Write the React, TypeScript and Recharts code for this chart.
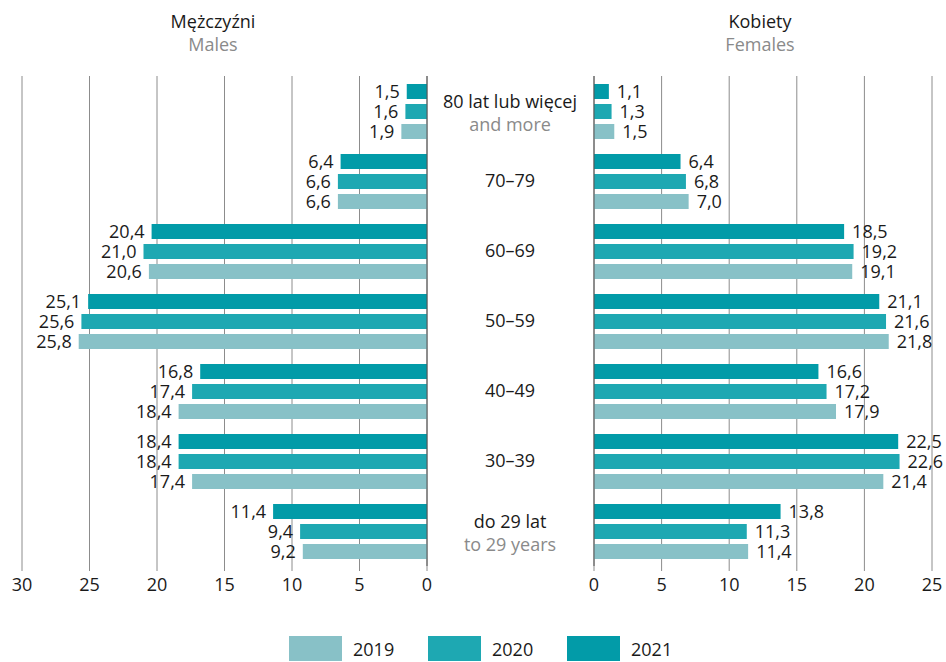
import React from 'react';
import { BarChart, Bar, XAxis, YAxis, CartesianGrid, ReferenceLine, LabelList } from 'recharts';

const categories = ['80 lat lub więcej', '70–79', '60–69', '50–59', '40–49', '30–39', 'do 29 lat'];
const categoriesEn = ['and more', '', '', '', '', '', 'to 29 years'];

const males2019 = [1.9, 6.6, 20.6, 25.8, 18.4, 17.4, 9.2];
const males2020 = [1.6, 6.6, 21.0, 25.6, 17.4, 18.4, 9.4];
const males2021 = [1.5, 6.4, 20.4, 25.1, 16.8, 18.4, 11.4];

const females2019 = [1.5, 7.0, 19.1, 21.8, 17.9, 21.4, 11.4];
const females2020 = [1.3, 6.8, 19.2, 21.6, 17.2, 22.6, 11.3];
const females2021 = [1.1, 6.4, 18.5, 21.1, 16.6, 22.5, 13.8];

const maleTicks = [0, 5, 10, 15, 20, 25, 30];
const femaleTicks = [0, 5, 10, 15, 20, 25];
const years = ['2019', '2020', '2021'];

const COLORS: Record<string, string> = { '2019': '#88C1C7', '2020': '#1EA8B2', '2021': '#029BA8' };
const FONT = '"Open Sans", sans-serif';
const TEXT = '#1a1a1a';
const GREY = '#8a8a8a';
const GRID = '#8c8c8c';

const maleData = categories.map((cat, i) => ({
  cat,
  y2019: males2019[i],
  y2020: males2020[i],
  y2021: males2021[i],
}));

const femaleData = categories.map((cat, i) => ({
  cat,
  en: categoriesEn[i],
  y2019: females2019[i],
  y2020: females2020[i],
  y2021: females2021[i],
}));

const fmt = (v: number) => v.toFixed(1).replace('.', ',');

const LeftLabel = (props: any) => {
  const x = Number(props.x), w = Number(props.width), y = Number(props.y), h = Number(props.height);
  const left = Math.min(x, x + w);
  return (
    <text x={left - 7} y={y + h / 2} dy="0.35em" textAnchor="end" fontSize={18} fill={TEXT} fontFamily={FONT}>
      {fmt(props.value)}
    </text>
  );
};

const RightLabel = (props: any) => {
  const x = Number(props.x), w = Number(props.width), y = Number(props.y), h = Number(props.height);
  const right = Math.max(x, x + w);
  return (
    <text x={right + 8} y={y + h / 2} dy="0.35em" textAnchor="start" fontSize={18} fill={TEXT} fontFamily={FONT}>
      {fmt(props.value)}
    </text>
  );
};

// age group labels sit in the gap between the two halves
const CenterTick = (props: any) => {
  const { y, payload, index } = props;
  const en = categoriesEn[index];
  const cx = 83;
  if (!en) {
    return (
      <text x={cx} y={y} dy="0.35em" textAnchor="middle" fontSize={18} fill={TEXT} fontFamily={FONT}>
        {payload.value}
      </text>
    );
  }
  return (
    <g>
      <text x={cx} y={y - 9} dy="0.35em" textAnchor="middle" fontSize={18} fill={TEXT} fontFamily={FONT}>
        {payload.value}
      </text>
      <text x={cx} y={y + 14} dy="0.35em" textAnchor="middle" fontSize={18} fill={GREY} fontFamily={FONT}>
        {en}
      </text>
    </g>
  );
};

const tickStyle = { fontSize: 18, fill: TEXT, fontFamily: FONT };

export default function App() {
  return (
    <div style={{ position: 'absolute', left: 0, top: 0, width: 946, height: 662, background: '#fff', fontFamily: FONT }}>
      <div style={{ position: 'absolute', left: 113, width: 200, top: 10, textAlign: 'center', fontSize: 18, lineHeight: '23px' }}>
        <div style={{ color: TEXT }}>Mężczyźni</div>
        <div style={{ color: GREY }}>Males</div>
      </div>
      <div style={{ position: 'absolute', left: 660, width: 200, top: 10, textAlign: 'center', fontSize: 18, lineHeight: '23px' }}>
        <div style={{ color: TEXT }}>Kobiety</div>
        <div style={{ color: GREY }}>Females</div>
      </div>

      <div style={{ position: 'absolute', left: 0, top: 0 }}>
        <BarChart
          width={460}
          height={610}
          data={maleData}
          layout="vertical"
          margin={{ top: 76, right: 33, bottom: 4, left: 22 }}
          barSize={15}
          barGap={5}
        >
          <CartesianGrid horizontal={false} stroke={GRID} />
          <XAxis
            type="number"
            domain={[0, 30]}
            ticks={maleTicks}
            reversed
            axisLine={false}
            tickLine={{ stroke: GRID }}
            tickSize={5}
            tickMargin={7}
            height={40}
            tick={tickStyle}
            interval={0}
          />
          <YAxis type="category" dataKey="cat" hide />
          <ReferenceLine x={0} stroke="#555" />
          <Bar dataKey="y2021" fill={COLORS['2021']} isAnimationActive={false}>
            <LabelList dataKey="y2021" content={LeftLabel} />
          </Bar>
          <Bar dataKey="y2020" fill={COLORS['2020']} isAnimationActive={false}>
            <LabelList dataKey="y2020" content={LeftLabel} />
          </Bar>
          <Bar dataKey="y2019" fill={COLORS['2019']} isAnimationActive={false}>
            <LabelList dataKey="y2019" content={LeftLabel} />
          </Bar>
        </BarChart>
      </div>

      <div style={{ position: 'absolute', left: 427, top: 0 }}>
        <BarChart
          width={519}
          height={610}
          data={femaleData}
          layout="vertical"
          margin={{ top: 76, right: 14, bottom: 4, left: 0 }}
          barSize={15}
          barGap={5}
        >
          <CartesianGrid horizontal={false} stroke={GRID} />
          <XAxis
            type="number"
            domain={[0, 25]}
            ticks={femaleTicks}
            axisLine={false}
            tickLine={{ stroke: GRID }}
            tickSize={5}
            tickMargin={7}
            height={40}
            tick={tickStyle}
            interval={0}
          />
          <YAxis
            type="category"
            dataKey="cat"
            width={167}
            axisLine={{ stroke: '#555' }}
            tickLine={false}
            tick={<CenterTick />}
            interval={0}
          />
          <Bar dataKey="y2021" fill={COLORS['2021']} isAnimationActive={false}>
            <LabelList dataKey="y2021" content={RightLabel} />
          </Bar>
          <Bar dataKey="y2020" fill={COLORS['2020']} isAnimationActive={false}>
            <LabelList dataKey="y2020" content={RightLabel} />
          </Bar>
          <Bar dataKey="y2019" fill={COLORS['2019']} isAnimationActive={false}>
            <LabelList dataKey="y2019" content={RightLabel} />
          </Bar>
        </BarChart>
      </div>

      <div style={{ position: 'absolute', left: 289, top: 636, display: 'flex' }}>
        {years.map((yr) => (
          <div key={yr} style={{ width: 139, display: 'flex', alignItems: 'center' }}>
            <div style={{ width: 53, height: 25, background: COLORS[yr] }} />
            <span style={{ marginLeft: 11, fontSize: 18, color: TEXT }}>{yr}</span>
          </div>
        ))}
      </div>
    </div>
  );
}
